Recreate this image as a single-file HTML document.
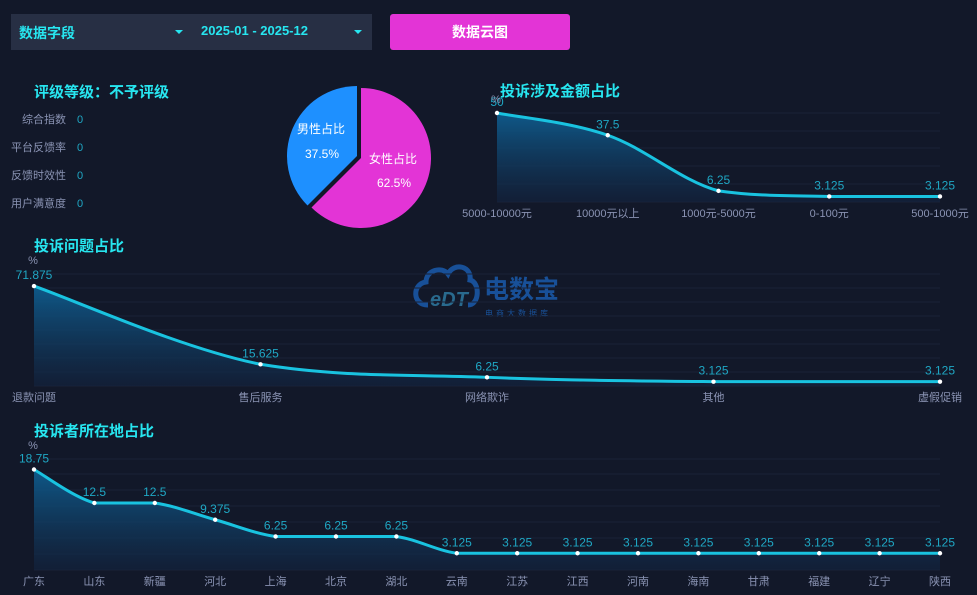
<!DOCTYPE html>
<html><head><meta charset="utf-8"><style>
html,body{margin:0;padding:0;background:#121829;width:977px;height:595px;overflow:hidden;font-family:"Liberation Sans","Noto Sans CJK SC",sans-serif}
.abs{position:absolute}
</style></head><body>
<div class="abs" style="left:11px;top:14px;width:361px;height:36px;background:#272f44"></div>
<div class="abs" style="left:19px;top:23px;color:#27e6f0;font-size:14px;font-weight:bold">数据字段</div>
<div class="abs" style="left:201px;top:23px;color:#27e6f0;font-size:13px;font-weight:bold">2025-01 - 2025-12</div>
<div class="abs" style="left:175px;top:30px;width:0;height:0;border-left:4px solid transparent;border-right:4px solid transparent;border-top:4px solid #27e6f0"></div>
<div class="abs" style="left:354px;top:30px;width:0;height:0;border-left:4px solid transparent;border-right:4px solid transparent;border-top:4px solid #27e6f0"></div>
<div class="abs" style="left:390px;top:14px;width:180px;height:36px;background:#e334d6;border-radius:3px;color:#fff;font-size:14px;font-weight:bold;text-align:center;line-height:36px">数据云图</div>
<div class="abs" style="left:34px;top:81px;color:#27e6f0;font-size:15px;font-weight:bold">评级等级：不予评级</div>
<div class="abs" style="left:10px;top:106px;color:#8a93b3;font-size:11px;line-height:28px;text-align:right;width:56px">综合指数<br>平台反馈率<br>反馈时效性<br>用户满意度</div>
<div class="abs" style="left:77px;top:106px;color:#1fa7c4;font-size:11px;line-height:28px">0<br>0<br>0<br>0</div>
<svg class="abs" style="left:0;top:0" width="977" height="595" id="s">
<defs><linearGradient id="g" x1="0" y1="0" x2="0" y2="1"><stop offset="0" stop-color="#0e5c8e" stop-opacity="0.95"/><stop offset="1" stop-color="#12233f" stop-opacity="0.6"/></linearGradient></defs>
<path d="M361 88 A70 70 0 1 1 311.5 207.5 L361 158 Z" fill="#e334d6"/>
<path d="M357 86 A70 70 0 0 0 307.5 205.5 L357 156 Z" fill="#1e90ff"/>
<text x="321" y="133" fill="#fff" font-size="12" text-anchor="middle">男性占比</text>
<text x="322" y="158" fill="#fff" font-size="12" text-anchor="middle">37.5%</text>
<text x="393" y="163" fill="#fff" font-size="12" text-anchor="middle">女性占比</text>
<text x="394" y="187" fill="#fff" font-size="12" text-anchor="middle">62.5%</text>
<text x="500" y="96" fill="#27e6f0" font-size="15" font-weight="bold">投诉涉及金额占比</text>
<text x="34" y="251" fill="#27e6f0" font-size="15" font-weight="bold">投诉问题占比</text>
<text x="34" y="436" fill="#27e6f0" font-size="15" font-weight="bold">投诉者所在地占比</text>
<g opacity="0.8">
<path d="M428 305 C412 305 412 284 426 282 C426 270 442 266 448 274 C454 262 472 266 470 280 C480 282 480 305 468 305" fill="none" stroke="#1a5fb4" stroke-width="5"/>
<text x="430" y="306" fill="#2f7fa8" font-size="20" font-style="italic" font-weight="bold">eDT</text>
<text x="484" y="298" fill="#1a5fb4" font-size="25" font-weight="bold">电数宝</text>
<text x="485" y="316" fill="#1a5fb4" font-size="8" letter-spacing="3">电商大数据库</text>
</g>
</svg>
<script>
const s=document.getElementById('s');
function add(tag,attrs,txt){const e=document.createElementNS('http://www.w3.org/2000/svg',tag);for(const k in attrs)e.setAttribute(k,attrs[k]);if(txt!==undefined)e.textContent=txt;s.appendChild(e);return e;}
function smooth(p){let d='M'+p[0][0]+' '+p[0][1];const sm=0.35;
for(let i=0;i<p.length-1;i++){const p0=p[i-1]||p[i],p1=p[i],p2=p[i+1],p3=p[i+2]||p2;
let c1x=p1[0]+(p2[0]-p0[0])*sm/2,c1y=p1[1]+(p2[1]-p0[1])*sm/2,c2x=p2[0]-(p3[0]-p1[0])*sm/2,c2y=p2[1]-(p3[1]-p1[1])*sm/2;
const lo=Math.min(p1[1],p2[1]),hi=Math.max(p1[1],p2[1]);c1y=Math.min(hi,Math.max(lo,c1y));c2y=Math.min(hi,Math.max(lo,c2y));
d+=` C${c1x} ${c1y} ${c2x} ${c2y} ${p2[0]} ${p2[1]}`;}return d;}
function chart(x0,x1,base,k,grids,cats,vals,labY){
 grids.forEach(y=>add('line',{x1:x0,x2:x1,y1:y,y2:y,stroke:'#1a2236','stroke-width':1}));
 const n=vals.length,st=(x1-x0)/(n-1);const p=vals.map((v,i)=>[x0+i*st,base-v*k]);
 const d=smooth(p);add('path',{d:d+` L${x1} ${base} L${x0} ${base} Z`,fill:'url(#g)'});
 add('path',{d:d,fill:'none',stroke:'#19c3e0','stroke-width':3});
 p.forEach((q,i)=>{add('circle',{cx:q[0],cy:q[1],r:2.2,fill:'#fff'});add('text',{x:q[0],y:q[1]-7,fill:'#1fa7c4','font-size':12,'text-anchor':'middle'},String(vals[i]));
 add('text',{x:q[0],y:labY,fill:'#8a93b3','font-size':11,'text-anchor':'middle'},cats[i]);});
 add('text',{x:x0-1,y:grids[0]-10,fill:'#8a93b3','font-size':11,'text-anchor':'middle'},'%');
}
chart(497,940,202,1.78,[113,131,148,166,184,202],['5000-10000元','10000元以上','1000元-5000元','0-100元','500-1000元'],[50,37.5,6.25,3.125,3.125],217);
chart(34,940,386,1.39,[274,288,302,316,330,344,358,372,386],['退款问题','售后服务','网络欺诈','其他','虚假促销'],[71.875,15.625,6.25,3.125,3.125],401);
chart(34,940,570,5.36,[459,474,490,506,522,538,554,570],['广东','山东','新疆','河北','上海','北京','湖北','云南','江苏','江西','河南','海南','甘肃','福建','辽宁','陕西'],[18.75,12.5,12.5,9.375,6.25,6.25,6.25,3.125,3.125,3.125,3.125,3.125,3.125,3.125,3.125,3.125],585);
</script>
</body></html>
